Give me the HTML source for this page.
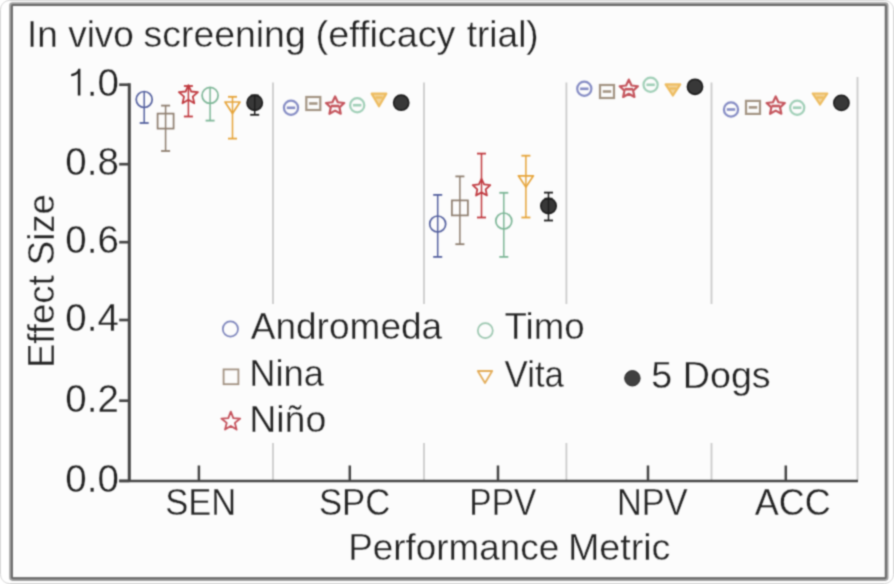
<!DOCTYPE html>
<html><head><meta charset="utf-8"><title>In vivo screening</title>
<style>
html,body{margin:0;padding:0;width:894px;height:584px;overflow:hidden;background:#fff;}
svg{display:block}
text{font-family:"Liberation Sans",sans-serif;fill:#222222;stroke:#fcfcfc;stroke-width:0.35px}
</style></head><body>
<svg width="894" height="584" viewBox="0 0 894 584">
<defs><filter id="bl" filterUnits="userSpaceOnUse" x="0" y="0" width="894" height="584" color-interpolation-filters="sRGB"><feConvolveMatrix order="5" kernelMatrix="0.00009 0.00198 0.00548 0.00198 0.00009 0.00198 0.04220 0.11707 0.04220 0.00198 0.00548 0.11707 0.32480 0.11707 0.00548 0.00198 0.04220 0.11707 0.04220 0.00198 0.00009 0.00198 0.00548 0.00198 0.00009" edgeMode="duplicate"/></filter></defs><g filter="url(#bl)"><rect width="894" height="584" fill="#fff"/><rect x="0.5" y="0.5" width="893" height="583" rx="9" fill="#ffffff" stroke="#d8d8d8" stroke-width="1"/>
<rect x="11.0" y="4.1" width="875.7" height="575.0" rx="1.5" fill="#fcfcfc" stroke="#a2a2a2" stroke-width="3.6"/>
<rect x="11.9" y="4.9" width="873.9" height="573.4" rx="1" fill="none" stroke="#6a6a6a" stroke-width="2.0"/>
<g id="plot">
<line x1="273" y1="82.5" x2="273" y2="480" stroke="#cbcbcb" stroke-width="1.8"/>
<line x1="424" y1="82.5" x2="424" y2="480" stroke="#cbcbcb" stroke-width="1.8"/>
<line x1="566.4" y1="82.5" x2="566.4" y2="480" stroke="#cbcbcb" stroke-width="1.8"/>
<line x1="711.5" y1="82.5" x2="711.5" y2="480" stroke="#cbcbcb" stroke-width="1.8"/>
<line x1="857.5" y1="77" x2="857.5" y2="480" stroke="#cbcbcb" stroke-width="1.8"/>
<rect x="200" y="304" width="580" height="139" fill="#fcfcfc"/>
<line x1="129.3" y1="83.3" x2="129.3" y2="482" stroke="#454545" stroke-width="3.0"/>
<line x1="119.2" y1="481.0" x2="858" y2="481.0" stroke="#454545" stroke-width="2.7"/>
<line x1="119.2" y1="480.9" x2="129.5" y2="480.9" stroke="#454545" stroke-width="2.7"/>
<text x="118.9" y="491.7" text-anchor="end" font-size="38.5">0.0</text>
<line x1="119.2" y1="400.7" x2="129.5" y2="400.7" stroke="#454545" stroke-width="2.7"/>
<text x="118.9" y="411.5" text-anchor="end" font-size="38.5">0.2</text>
<line x1="119.2" y1="320.0" x2="129.5" y2="320.0" stroke="#454545" stroke-width="2.7"/>
<text x="118.9" y="330.8" text-anchor="end" font-size="38.5">0.4</text>
<line x1="119.2" y1="242.2" x2="129.5" y2="242.2" stroke="#454545" stroke-width="2.7"/>
<text x="118.9" y="253.0" text-anchor="end" font-size="38.5">0.6</text>
<line x1="119.2" y1="164.2" x2="129.5" y2="164.2" stroke="#454545" stroke-width="2.7"/>
<text x="118.9" y="175.0" text-anchor="end" font-size="38.5">0.8</text>
<line x1="119.2" y1="84.7" x2="129.5" y2="84.7" stroke="#454545" stroke-width="2.7"/>
<text x="118.9" y="95.5" text-anchor="end" font-size="38.5"><tspan style="fill:none;stroke:none">1</tspan>.0</text>
<path d="M80.4 68.8 L78.3 68.8 C77.5 71.6 75.3 73.6 71.2 74.0 L71.2 76.2 C74.2 76.1 76.4 75.2 77.8 73.6 L77.8 95.5 L80.4 95.5 Z" fill="#222"/>
<line x1="198.9" y1="465.5" x2="198.9" y2="481" stroke="#454545" stroke-width="2.5"/>
<line x1="349.8" y1="465.5" x2="349.8" y2="481" stroke="#454545" stroke-width="2.5"/>
<line x1="498.0" y1="465.5" x2="498.0" y2="481" stroke="#454545" stroke-width="2.5"/>
<line x1="648.0" y1="465.5" x2="648.0" y2="481" stroke="#454545" stroke-width="2.5"/>
<line x1="785.8" y1="465.5" x2="785.8" y2="481" stroke="#454545" stroke-width="2.5"/>
<line x1="144.2" y1="92.0" x2="144.2" y2="123.0" stroke="#55619f" stroke-width="1.5"/><line x1="139.7" y1="123.0" x2="148.7" y2="123.0" stroke="#55619f" stroke-width="1.8"/>
<circle cx="144.2" cy="99.5" r="8.0" fill="none" stroke="#55619f" stroke-width="1.7"/>
<line x1="165.6" y1="105.6" x2="165.6" y2="151.0" stroke="#8e7e6f" stroke-width="1.5"/><line x1="161.1" y1="105.6" x2="170.1" y2="105.6" stroke="#8e7e6f" stroke-width="1.8"/><line x1="161.1" y1="151.0" x2="170.1" y2="151.0" stroke="#8e7e6f" stroke-width="1.8"/>
<rect x="157.6" y="113.6" width="16.0" height="15.0" fill="none" stroke="#8e7e6f" stroke-width="1.7"/>
<line x1="188.4" y1="86.0" x2="188.4" y2="116.5" stroke="#c0393f" stroke-width="1.5"/><line x1="183.9" y1="86.0" x2="192.9" y2="86.0" stroke="#c0393f" stroke-width="1.8"/><line x1="183.9" y1="116.5" x2="192.9" y2="116.5" stroke="#c0393f" stroke-width="1.8"/>
<polygon points="188.40,85.20 191.10,91.48 197.91,92.11 192.77,96.62 194.28,103.29 188.40,99.80 182.52,103.29 184.03,96.62 178.89,92.11 185.70,91.48" fill="none" stroke="#c0393f" stroke-width="1.8" stroke-linejoin="round"/>
<line x1="210.1" y1="87.9" x2="210.1" y2="120.6" stroke="#7db697" stroke-width="1.5"/><line x1="205.6" y1="120.6" x2="214.6" y2="120.6" stroke="#7db697" stroke-width="1.8"/>
<circle cx="210.1" cy="95.4" r="8.0" fill="none" stroke="#7db697" stroke-width="1.7"/>
<line x1="232.5" y1="96.8" x2="232.5" y2="138.6" stroke="#e6a43a" stroke-width="1.5"/><line x1="228.0" y1="96.8" x2="237.0" y2="96.8" stroke="#e6a43a" stroke-width="1.8"/><line x1="228.0" y1="138.6" x2="237.0" y2="138.6" stroke="#e6a43a" stroke-width="1.8"/>
<polygon points="225.0,102.0 240.0,102.0 232.5,113.5" fill="none" stroke="#e6a43a" stroke-width="1.7" stroke-linejoin="round"/>
<line x1="254.7" y1="95.2" x2="254.7" y2="114.8" stroke="#1c1c1c" stroke-width="1.5"/><line x1="250.2" y1="114.8" x2="259.2" y2="114.8" stroke="#1c1c1c" stroke-width="1.8"/>
<circle cx="254.7" cy="102.7" r="7.7" fill="#383838" stroke="#1c1c1c" stroke-width="1.6"/>
<line x1="254.7" y1="95.7" x2="254.7" y2="109.7" stroke="#1c1c1c" stroke-width="1.4"/>
<line x1="250.7" y1="95.5" x2="258.7" y2="95.5" stroke="#1c1c1c" stroke-width="1.8"/>
<circle cx="291.0" cy="107.7" r="7.1" fill="none" stroke="#858cc4" stroke-width="2.2"/>
<line x1="286.8" y1="107.8" x2="295.2" y2="107.8" stroke="#858cc4" stroke-width="2.6"/>
<rect x="306.3" y="97.0" width="14.0" height="13.0" fill="none" stroke="#a39483" stroke-width="2.2"/>
<line x1="309.1" y1="103.5" x2="317.5" y2="103.5" stroke="#a39483" stroke-width="2.6"/>
<polygon points="335.10,96.40 337.80,102.28 344.23,103.03 339.47,107.42 340.74,113.77 335.10,110.60 329.46,113.77 330.73,107.42 325.97,103.03 332.40,102.28" fill="none" stroke="#c4545c" stroke-width="2.2" stroke-linejoin="round"/>
<line x1="330.9" y1="106.0" x2="339.3" y2="106.0" stroke="#c4545c" stroke-width="2.6"/>
<circle cx="357.2" cy="105.2" r="7.1" fill="none" stroke="#a0cfb7" stroke-width="2.2"/>
<line x1="353.0" y1="105.2" x2="361.4" y2="105.2" stroke="#a0cfb7" stroke-width="2.6"/>
<polygon points="371.7,93.6 386.3,93.6 379.0,106.3" fill="#f3d49a" stroke="#edbc60" stroke-width="2.2" stroke-linejoin="round"/>
<line x1="375.5" y1="97.5" x2="382.5" y2="97.5" stroke="#edbc60" stroke-width="2.2"/>
<circle cx="401.2" cy="102.7" r="7.6" fill="#383838" stroke="#1c1c1c" stroke-width="1.6"/>
<line x1="437.7" y1="194.9" x2="437.7" y2="256.9" stroke="#55619f" stroke-width="1.5"/><line x1="433.2" y1="194.9" x2="442.2" y2="194.9" stroke="#55619f" stroke-width="1.8"/><line x1="433.2" y1="256.9" x2="442.2" y2="256.9" stroke="#55619f" stroke-width="1.8"/>
<circle cx="437.7" cy="224.0" r="8.0" fill="none" stroke="#55619f" stroke-width="1.7"/>
<line x1="459.9" y1="176.4" x2="459.9" y2="244.2" stroke="#8e7e6f" stroke-width="1.5"/><line x1="455.4" y1="176.4" x2="464.4" y2="176.4" stroke="#8e7e6f" stroke-width="1.8"/><line x1="455.4" y1="244.2" x2="464.4" y2="244.2" stroke="#8e7e6f" stroke-width="1.8"/>
<rect x="451.9" y="200.4" width="16.0" height="15.0" fill="none" stroke="#8e7e6f" stroke-width="1.7"/>
<line x1="481.5" y1="153.6" x2="481.5" y2="217.5" stroke="#c0393f" stroke-width="1.5"/><line x1="477.0" y1="153.6" x2="486.0" y2="153.6" stroke="#c0393f" stroke-width="1.8"/><line x1="477.0" y1="217.5" x2="486.0" y2="217.5" stroke="#c0393f" stroke-width="1.8"/>
<polygon points="481.50,178.80 484.09,184.44 490.25,185.16 485.68,189.36 486.91,195.44 481.50,192.40 476.09,195.44 477.32,189.36 472.75,185.16 478.91,184.44" fill="none" stroke="#c0393f" stroke-width="1.8" stroke-linejoin="round"/>
<line x1="503.8" y1="192.8" x2="503.8" y2="256.9" stroke="#7db697" stroke-width="1.5"/><line x1="499.3" y1="192.8" x2="508.3" y2="192.8" stroke="#7db697" stroke-width="1.8"/><line x1="499.3" y1="256.9" x2="508.3" y2="256.9" stroke="#7db697" stroke-width="1.8"/>
<circle cx="503.8" cy="221.0" r="8.0" fill="none" stroke="#7db697" stroke-width="1.7"/>
<line x1="525.9" y1="155.7" x2="525.9" y2="217.5" stroke="#e6a43a" stroke-width="1.5"/><line x1="521.4" y1="155.7" x2="530.4" y2="155.7" stroke="#e6a43a" stroke-width="1.8"/><line x1="521.4" y1="217.5" x2="530.4" y2="217.5" stroke="#e6a43a" stroke-width="1.8"/>
<polygon points="518.4,175.8 533.4,175.8 525.9,187.1" fill="none" stroke="#e6a43a" stroke-width="1.7" stroke-linejoin="round"/>
<line x1="548.5" y1="192.6" x2="548.5" y2="220.5" stroke="#1c1c1c" stroke-width="1.5"/><line x1="544.0" y1="192.6" x2="553.0" y2="192.6" stroke="#1c1c1c" stroke-width="1.8"/><line x1="544.0" y1="220.5" x2="553.0" y2="220.5" stroke="#1c1c1c" stroke-width="1.8"/>
<circle cx="548.5" cy="205.9" r="7.7" fill="#383838" stroke="#1c1c1c" stroke-width="1.6"/>
<line x1="548.5" y1="198.9" x2="548.5" y2="212.9" stroke="#1c1c1c" stroke-width="1.4"/>
<line x1="544.5" y1="198.7" x2="552.5" y2="198.7" stroke="#1c1c1c" stroke-width="1.8"/>
<circle cx="584.3" cy="88.8" r="7.1" fill="none" stroke="#858cc4" stroke-width="2.2"/>
<line x1="580.1" y1="88.8" x2="588.5" y2="88.8" stroke="#858cc4" stroke-width="2.6"/>
<rect x="600.0" y="85.0" width="14.0" height="13.0" fill="none" stroke="#a39483" stroke-width="2.2"/>
<line x1="602.8" y1="91.5" x2="611.2" y2="91.5" stroke="#a39483" stroke-width="2.6"/>
<polygon points="628.80,79.60 631.50,85.48 637.93,86.23 633.17,90.62 634.44,96.97 628.80,93.80 623.16,96.97 624.43,90.62 619.67,86.23 626.10,85.48" fill="none" stroke="#c4545c" stroke-width="2.2" stroke-linejoin="round"/>
<line x1="624.6" y1="89.2" x2="633.0" y2="89.2" stroke="#c4545c" stroke-width="2.6"/>
<circle cx="650.6" cy="84.8" r="7.1" fill="none" stroke="#a0cfb7" stroke-width="2.2"/>
<line x1="646.4" y1="84.8" x2="654.8" y2="84.8" stroke="#a0cfb7" stroke-width="2.6"/>
<polygon points="665.6,84.4 680.2,84.4 672.9,95.5" fill="#f3d49a" stroke="#edbc60" stroke-width="2.2" stroke-linejoin="round"/>
<line x1="669.4" y1="88.5" x2="676.4" y2="88.5" stroke="#edbc60" stroke-width="2.2"/>
<circle cx="695.0" cy="86.8" r="7.6" fill="#383838" stroke="#1c1c1c" stroke-width="1.6"/>
<circle cx="731.0" cy="109.5" r="7.1" fill="none" stroke="#858cc4" stroke-width="2.2"/>
<line x1="726.8" y1="109.5" x2="735.2" y2="109.5" stroke="#858cc4" stroke-width="2.6"/>
<rect x="746.0" y="100.9" width="14.0" height="13.0" fill="none" stroke="#a39483" stroke-width="2.2"/>
<line x1="748.8" y1="107.4" x2="757.2" y2="107.4" stroke="#a39483" stroke-width="2.6"/>
<polygon points="775.70,96.40 778.40,102.28 784.83,103.03 780.07,107.42 781.34,113.77 775.70,110.60 770.06,113.77 771.33,107.42 766.57,103.03 773.00,102.28" fill="none" stroke="#c4545c" stroke-width="2.2" stroke-linejoin="round"/>
<line x1="771.5" y1="106.0" x2="779.9" y2="106.0" stroke="#c4545c" stroke-width="2.6"/>
<circle cx="797.2" cy="107.7" r="7.1" fill="none" stroke="#a0cfb7" stroke-width="2.2"/>
<line x1="793.0" y1="107.7" x2="801.4" y2="107.7" stroke="#a0cfb7" stroke-width="2.6"/>
<polygon points="812.7,93.5 827.3,93.5 820.0,104.5" fill="#f3d49a" stroke="#edbc60" stroke-width="2.2" stroke-linejoin="round"/>
<line x1="816.5" y1="97.5" x2="823.5" y2="97.5" stroke="#edbc60" stroke-width="2.2"/>
<circle cx="841.4" cy="102.9" r="7.6" fill="#383838" stroke="#1c1c1c" stroke-width="1.6"/>
<circle cx="230.4" cy="329.0" r="7.6" fill="none" stroke="#7c84bb" stroke-width="1.7"/>
<rect x="223.6" y="369.4" width="14.8" height="14.8" fill="none" stroke="#a29282" stroke-width="1.8"/>
<polygon points="230.80,411.70 233.33,418.12 240.22,418.54 234.89,422.93 236.62,429.61 230.80,425.90 224.98,429.61 226.71,422.93 221.38,418.54 228.27,418.12" fill="none" stroke="#c4505a" stroke-width="1.8" stroke-linejoin="round"/>
<circle cx="485.3" cy="330.6" r="7.5" fill="none" stroke="#9cc7b0" stroke-width="1.7"/>
<polygon points="477.8,371.0 492.2,371.0 485.0,383.0" fill="none" stroke="#e3ad5a" stroke-width="1.8" stroke-linejoin="round"/>
<circle cx="632.4" cy="378.3" r="7.7" fill="#404040" stroke="#2a2a2a" stroke-width="1.0"/>
<text x="165.13" y="515.00" font-size="36.5" textLength="71.09" lengthAdjust="spacingAndGlyphs">SEN</text>
<text x="318.92" y="515.00" font-size="36.5" textLength="71.40" lengthAdjust="spacingAndGlyphs">SPC</text>
<text x="469.36" y="515.00" font-size="36.5" textLength="66.89" lengthAdjust="spacingAndGlyphs">PPV</text>
<text x="616.98" y="515.00" font-size="36.5" textLength="70.57" lengthAdjust="spacingAndGlyphs">NPV</text>
<text x="754.83" y="515.00" font-size="36.5" textLength="76.04" lengthAdjust="spacingAndGlyphs">ACC</text>
<text x="26.99" y="47.00" font-size="37" textLength="30.81" lengthAdjust="spacingAndGlyphs">In</text>
<text x="68.17" y="47.00" font-size="37" textLength="65.78" lengthAdjust="spacingAndGlyphs">vivo</text>
<text x="143.56" y="47.00" font-size="37" textLength="162.15" lengthAdjust="spacingAndGlyphs">screening</text>
<text x="315.57" y="47.00" font-size="37" textLength="139.90" lengthAdjust="spacingAndGlyphs">(efficacy</text>
<text x="466.74" y="47.00" font-size="37" textLength="71.96" lengthAdjust="spacingAndGlyphs">trial)</text>
<text x="348.18" y="559.80" font-size="36.5" textLength="211.06" lengthAdjust="spacingAndGlyphs">Performance</text>
<text x="567.91" y="559.80" font-size="36.5" textLength="102.48" lengthAdjust="spacingAndGlyphs">Metric</text>
<text transform="translate(54.3,368.08) rotate(-90)" font-size="36.5" textLength="173.90" lengthAdjust="spacingAndGlyphs">Effect Size</text>
<text x="250.73" y="339.20" font-size="36" textLength="191.47" lengthAdjust="spacingAndGlyphs">Andromeda</text>
<text x="249.32" y="385.50" font-size="36" textLength="74.68" lengthAdjust="spacingAndGlyphs">Nina</text>
<text x="249.23" y="431.70" font-size="36" textLength="77.05" lengthAdjust="spacingAndGlyphs">Niño</text>
<text x="504.59" y="338.60" font-size="36" textLength="80.12" lengthAdjust="spacingAndGlyphs">Timo</text>
<text x="504.55" y="387.10" font-size="36" textLength="59.45" lengthAdjust="spacingAndGlyphs">Vita</text>
<text x="651.39" y="387.80" font-size="36" textLength="119.27" lengthAdjust="spacingAndGlyphs">5 Dogs</text>
</g></g>
</svg>
</body></html>
